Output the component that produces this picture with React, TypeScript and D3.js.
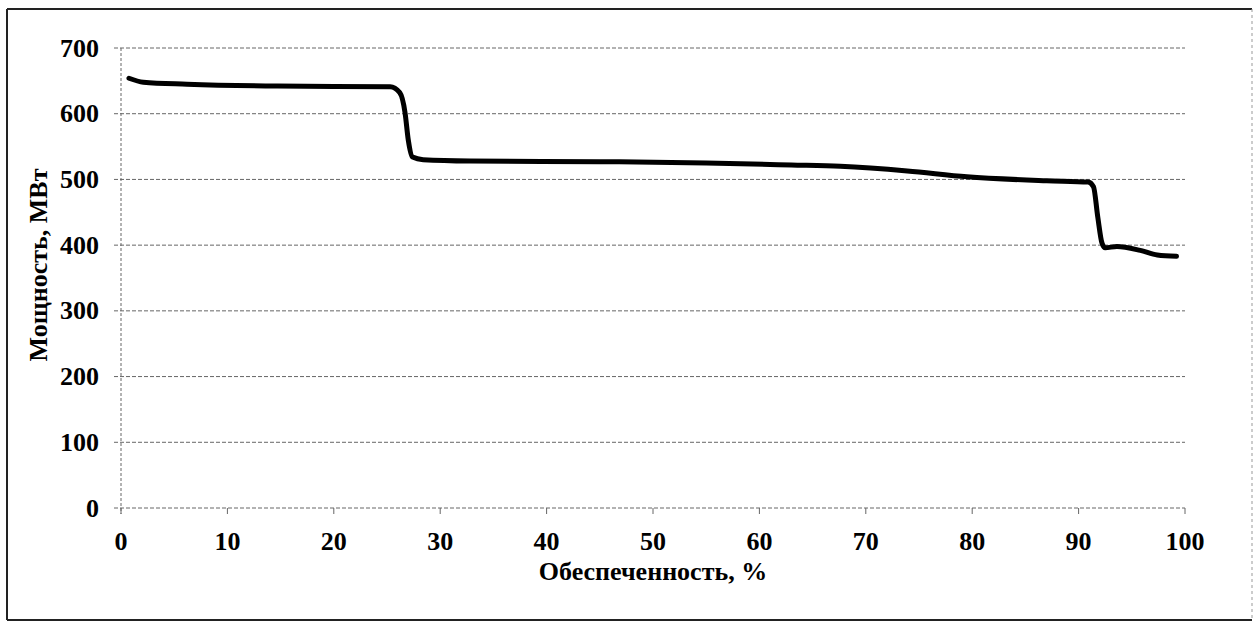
import React from "react";
import * as d3 from "d3";

const xTicks = [0, 10, 20, 30, 40, 50, 60, 70, 80, 90, 100];
const yTicks = [0, 100, 200, 300, 400, 500, 600, 700];
const xTitle = "Обеспеченность, %";
const yTitle = "Мощность, МВт";

const supply = [0.75, 2.1, 6.2, 14.7, 25.3, 26.2, 26.7, 27.0, 27.4, 28.4, 32.8, 45, 55, 63, 67.6, 73.9, 79.5, 87.0, 90.9, 91.4, 91.8, 92.2, 92.5, 93.6, 95.8, 97.4, 99.2];
const power = [654, 648, 645, 642, 641, 632, 601, 560, 534, 530, 528, 527, 525, 522, 520, 513, 504, 498, 496, 489, 443, 403, 396, 398, 392, 385, 383];

const W = 1255;
const H = 624;
const M = { left: 121, right: 1185, top: 48, bottom: 508 };

export default function App() {
  const x = d3.scaleLinear().domain([0, 100]).range([M.left, M.right]);
  const y = d3.scaleLinear().domain([0, 700]).range([M.bottom, M.top]);
  const pts: [number, number][] = supply.map((s, i) => [s, power[i]]);
  const line = d3
    .line<[number, number]>()
    .x((d) => x(d[0]))
    .y((d) => y(d[1]))
    .curve(d3.curveMonotoneX);
  const font = "'Liberation Serif', 'Times New Roman', serif";
  const fs = 26;
  return (
    <svg
      width={W}
      height={H}
      style={{ position: "absolute", left: 0, top: 0, background: "#fff" }}
    >
      <rect x={0} y={0} width={W} height={H} fill="#fff" />
      {/* outer frame */}
      <line x1={7} y1={9} x2={1252} y2={9} stroke="#222" strokeWidth={2} />
      <line x1={7} y1={9} x2={7} y2={620} stroke="#222" strokeWidth={2} />
      <line x1={7} y1={620} x2={1252} y2={620} stroke="#222" strokeWidth={2} />
      <line x1={1252} y1={9} x2={1252} y2={620} stroke="#999" strokeWidth={1} strokeDasharray="3,3" />
      {/* grid */}
      {yTicks.map((t) => (
        <g key={"gy" + t}>
          <line x1={M.left - 7} x2={M.right} y1={y(t)} y2={y(t)} stroke="#666" strokeWidth={1} strokeDasharray="4,2" />
          <text
            x={99}
            y={y(t)}
            textAnchor="end"
            dominantBaseline="central"
            fontFamily={font}
            fontWeight="bold"
            fontSize={fs}
            fill="#000"
          >
            {t}
          </text>
        </g>
      ))}
      <line x1={M.left} x2={M.left} y1={M.top} y2={M.bottom + 6} stroke="#666" strokeWidth={1} strokeDasharray="3,2" />
      {xTicks.map((t) => (
        <g key={"gx" + t}>
          <line x1={x(t)} x2={x(t)} y1={M.bottom} y2={M.bottom + 6} stroke="#666" strokeWidth={1} />
          <text
            x={x(t)}
            y={550}
            textAnchor="middle"
            fontFamily={font}
            fontWeight="bold"
            fontSize={fs}
            fill="#000"
          >
            {t}
          </text>
        </g>
      ))}
      <path d={line(pts) || ""} fill="none" stroke="#000" strokeWidth={5} strokeLinejoin="round" strokeLinecap="round" />
      <text x={653} y={580} textAnchor="middle" fontFamily={font} fontWeight="bold" fontSize={fs} fill="#000">
        {xTitle}
      </text>
      <text
        transform={`translate(47, 265) rotate(-90)`}
        textAnchor="middle"
        fontFamily={font}
        fontWeight="bold"
        fontSize={fs}
        fill="#000"
      >
        {yTitle}
      </text>
    </svg>
  );
}
